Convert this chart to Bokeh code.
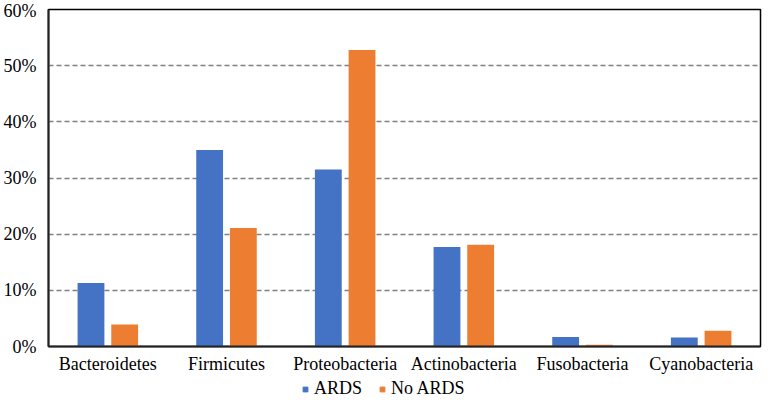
from bokeh.plotting import figure
from bokeh.layouts import column
from bokeh.models import (ColumnDataSource, FactorRange, Range1d, NumeralTickFormatter,
                          FixedTicker, Legend, LegendItem)
from bokeh.transform import dodge
from bokeh.embed import file_html
from bokeh.resources import INLINE

categories = ["Bacteroidetes", "Firmicutes", "Proteobacteria", "Actinobacteria",
              "Fusobacteria", "Cyanobacteria"]
ards = [0.113, 0.350, 0.315, 0.177, 0.017, 0.016]
no_ards = [0.039, 0.211, 0.528, 0.181, 0.003, 0.028]
series_names = ["ARDS", "No ARDS"]
y_ticks = [0.0, 0.1, 0.2, 0.3, 0.4, 0.5, 0.6]

FONT = "Liberation Serif"
BLUE = "#4472C4"
ORANGE = "#ED7D31"

src = ColumnDataSource(dict(cat=categories, ards=ards, no_ards=no_ards))

p = figure(width=762, height=376, x_range=FactorRange(*categories),
           y_range=Range1d(0, 0.6), output_backend="svg", toolbar_location=None,
           min_border_top=9, min_border_right=2, min_border_bottom=0)

p.vbar(x=dodge("cat", -0.142, range=p.x_range), top="ards", width=0.226,
       source=src, fill_color=BLUE, line_color=None)
p.vbar(x=dodge("cat", 0.142, range=p.x_range), top="no_ards", width=0.226,
       source=src, fill_color=ORANGE, line_color=None)

p.outline_line_color = "black"
p.outline_line_width = 1.5
p.xgrid.grid_line_color = None
p.ygrid.grid_line_color = "#808080"
p.ygrid.grid_line_dash = "5 3"
p.ygrid.grid_line_width = 1.3
p.ygrid.ticker = FixedTicker(ticks=y_ticks[1:-1])

p.yaxis.ticker = FixedTicker(ticks=y_ticks)
p.yaxis.formatter = NumeralTickFormatter(format="0%")
for ax in (p.xaxis[0], p.yaxis[0]):
    ax.axis_line_color = "#222222"
    ax.axis_line_width = 2
    ax.major_tick_line_color = None
    ax.minor_tick_line_color = None
    ax.major_tick_out = 0
    ax.major_tick_in = 0
    ax.major_label_text_font = FONT
    ax.major_label_text_font_size = "18px"
    ax.major_label_text_color = "black"
    ax.axis_label_standoff = 0
p.yaxis.major_label_standoff = 12
p.xaxis.major_label_standoff = 7

# legend strip below the chart
lg = figure(width=762, height=22, x_range=Range1d(0, 1), y_range=Range1d(0, 1),
            output_backend="svg", toolbar_location=None,
            min_border=0, outline_line_color=None)
lg.axis.visible = False
lg.grid.visible = False
g1 = lg.scatter(x=[-1], y=[-1], marker="square", size=11, color=BLUE)
g2 = lg.scatter(x=[-1], y=[-1], marker="square", size=11, color=ORANGE)
legend = Legend(items=[LegendItem(label=series_names[0], renderers=[g1]),
                       LegendItem(label=series_names[1], renderers=[g2])],
                orientation="horizontal", location=(251, -1),
                label_text_font=FONT, label_text_font_size="18px",
                label_text_color="black", label_height=18,
                glyph_width=12, glyph_height=12, spacing=14,
                label_standoff=3, padding=0, margin=0,
                border_line_color=None, background_fill_alpha=0)
lg.add_layout(legend, "center")

layout = column(p, lg, spacing=0)
open("out.html", "w").write(file_html(layout, INLINE))
